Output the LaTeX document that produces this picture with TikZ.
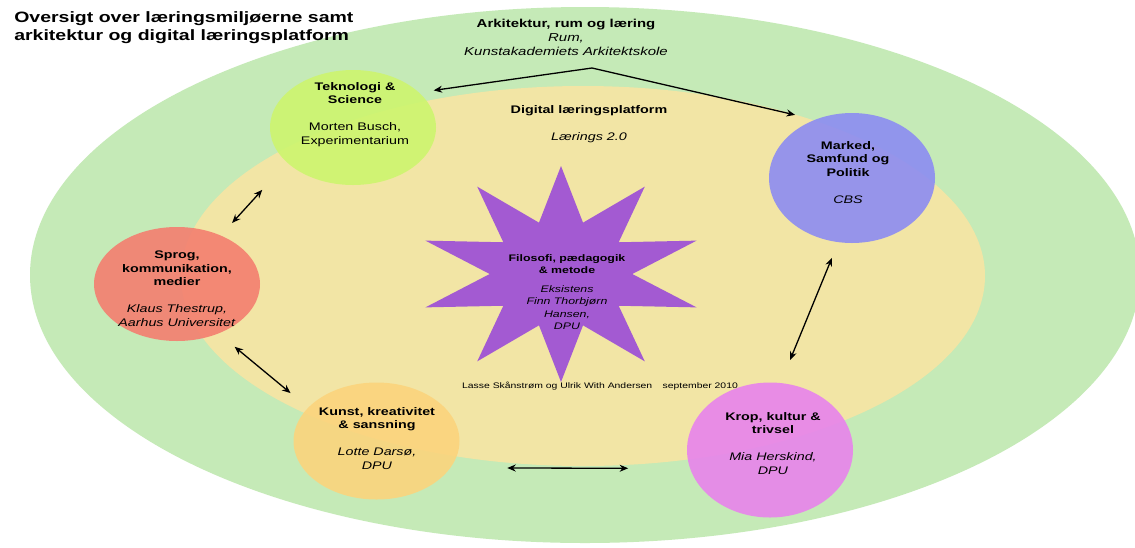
\documentclass[tikz,border=0pt]{standalone}
\usepackage{fontspec}
\setmainfont{Liberation Sans}
\usetikzlibrary{shapes.geometric,arrows.meta}

\definecolor{feltgroen}{HTML}{C5EAB7}
\definecolor{feltgul}{HTML}{F2E5A5}
\definecolor{tekfarve}{HTML}{CDF56E}
\definecolor{markfarve}{HTML}{8C8CF2}
\definecolor{sprogfarve}{HTML}{F47E6F}
\definecolor{kunstfarve}{HTML}{FBD47D}
\definecolor{kropfarve}{HTML}{E883EC}
\definecolor{stjernefarve}{HTML}{A35AD2}

\tikzset{
  felt/.style={ellipse, inner sep=0pt, outer sep=0pt, minimum width=166pt, fill opacity=.9},
  tekst/.style={align=center, inner sep=0pt, xscale=1.3, font=\fontsize{11}{13.5}\selectfont},
  pil/.style={-{Stealth[length=8.5pt,width=7pt]}, line width=1.3pt},
  dobbeltpil/.style={{Stealth[length=8.5pt,width=7pt]}-{Stealth[length=8.5pt,width=7pt]}, line width=1.3pt},
}

\begin{document}
\begin{tikzpicture}[x=1pt, y=-1pt]
    \clip (0,0) rectangle (1135,547);
    \fill[white] (0,0) rectangle (1135,547);

    \fill[feltgroen] (585,275) ellipse [x radius=555pt, y radius=268pt];
    \fill[feltgul] (583,276) ellipse [x radius=402pt, y radius=190pt];

    \node[felt, fill=tekfarve, minimum height=115pt] (tek) at (353,127.5) {};
    \node[felt, fill=markfarve, minimum height=130pt] (marked) at (852,178) {};
    \node[felt, fill=sprogfarve, minimum height=114pt] (sprog) at (177,284) {};
    \node[felt, fill=kunstfarve, minimum height=117pt] (kunst) at (376.5,441) {};
    \node[felt, fill=kropfarve, minimum height=135pt] (krop) at (770,450) {};

    \node[star, star points=10, star point ratio=2, minimum size=216pt, inner sep=0pt,
          xscale=1.32, fill=stjernefarve] (filo) at (561,274) {};

    \draw[dobbeltpil, shorten <=37pt, shorten >=17pt] (tek.208) -- (sprog.48);
    \draw[dobbeltpil, shorten <=21pt, shorten >=23pt] (sprog.310) -- (kunst.154);
    \draw[dobbeltpil, shorten <=57pt, shorten >=62pt] (kunst.340) -- (krop.193);
    \draw[dobbeltpil, shorten <=25pt, shorten >=17pt] (krop.81) -- (marked.258);

    \coordinate (knaek) at (592,68);
    \draw[pil, shorten >=15pt] (knaek) -- (tek.28);
    \draw[pil, shorten >=21pt] (knaek) -- (marked.122);

    \node[tekst, anchor=north west, align=left, font=\fontsize{15}{18}\selectfont\bfseries] (titel) at (14,11)
        {Oversigt over læringsmiljøerne samt\\arkitektur og digital læringsplatform};
    \node[tekst, anchor=north, font=\fontsize{11.5}{14}\selectfont] (ark) at (566,19)
        {\textbf{Arkitektur, rum og læring}\\\textit{Rum,}\\\textit{Kunstakademiets Arkitektskole}};
    \node[tekst, anchor=north] (platform) at (589,105)
        {\textbf{Digital læringsplatform}\\[13.5pt]\textit{Lærings 2.0}};

    \node[tekst, anchor=north] (tektekst) at (355,82)
        {\textbf{Teknologi \&}\\\textbf{Science}\\[13.5pt]Morten Busch,\\Experimentarium};
    \node[tekst, anchor=north] (markedtekst) at (848,141)
        {\textbf{Marked,}\\\textbf{Samfund og}\\\textbf{Politik}\\[13.5pt]\textit{CBS}};
    \node[tekst, anchor=north] (sprogtekst) at (177,251)
        {\textbf{Sprog,}\\\textbf{kommunikation,}\\\textbf{medier}\\[13.5pt]\textit{Klaus Thestrup,}\\\textit{Aarhus Universitet}};
    \node[tekst, anchor=north] (kunsttekst) at (377,407)
        {\textbf{Kunst, kreativitet}\\\textbf{\& sansning}\\[13.5pt]\textit{Lotte Darsø,}\\\textit{DPU}};
    \node[tekst, anchor=north] (kroptekst) at (773,412)
        {\textbf{Krop, kultur \&}\\\textbf{trivsel}\\[13.5pt]\textit{Mia Herskind,}\\\textit{DPU}};
    \node[tekst, anchor=north, font=\fontsize{9.5}{12.3}\selectfont] (filotekst) at (567,254)
        {\textbf{Filosofi, pædagogik}\\\textbf{\& metode}\\[7pt]\textit{Eksistens}\\\textit{Finn Thorbjørn}\\\textit{Hansen,}\\\textit{DPU}};

    \node[tekst, font=\fontsize{8}{10}\selectfont] (forfattere) at (600,386)
        {Lasse Skånstrøm og Ulrik With Andersen\quad september 2010};
\end{tikzpicture}
\end{document}
